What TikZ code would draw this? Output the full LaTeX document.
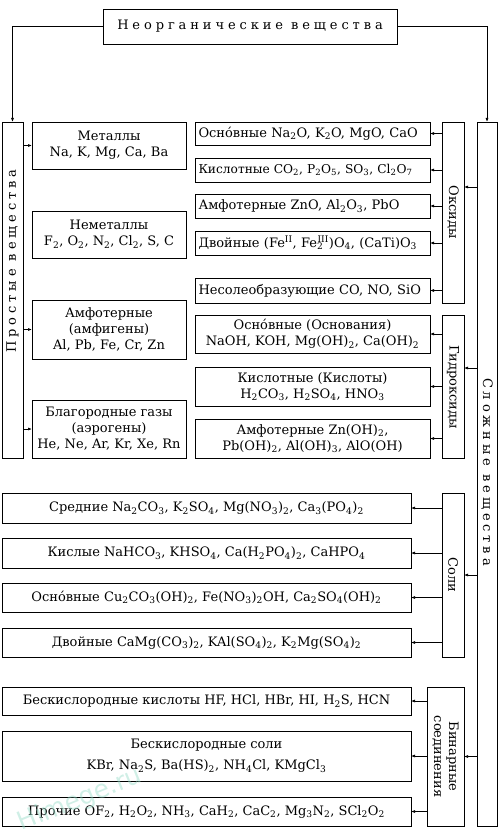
\documentclass[tikz,border=0pt]{standalone}
\usepackage{fontspec}
\setmainfont{DejaVu Serif}
\newfontfamily\wmfont{DejaVu Sans}
\usetikzlibrary{arrows.meta}
\newcommand\lo[1]{\textsubscript{#1}}
\newcommand\hi[1]{\textsuperscript{#1}}
\newcommand\spc[1]{{\addfontfeature{LetterSpace=30}#1}}
\definecolor{wmc}{RGB}{150,220,200}
\begin{document}
\begin{tikzpicture}[x=1pt,y=-1pt,
  box/.style={draw, line width=0.8pt, inner sep=0pt, outer sep=0pt, align=center, font=\fontsize{13}{16}\selectfont},
  oxbox/.style={box, minimum width=235pt, text width=228pt, align=left},
  vlab/.style={rotate=-90, inner sep=0pt, align=center, font=\fontsize{13}{15}\selectfont},
  arr/.style={-{Latex[length=4pt,width=3pt]}, line width=0.7pt},
]
\useasboundingbox (0,0) rectangle (500,834);
% top
\node[box, minimum width=294pt, minimum height=35pt] (top) at (250,26.5) {\spc{Неорганические вещества}};
% left column
\node[box, minimum width=21pt, minimum height=336pt] (left) at (12.5,290) {};
\node[rotate=90, inner sep=0pt, font=\fontsize{13}{15}\selectfont] (lefttxt) at (12.5,261) {\spc{Простые вещества}};
\node[box, minimum width=154pt, minimum height=47pt] (met) at (109,145.5) {Металлы\\Na, K, Mg, Ca, Ba};
\node[box, minimum width=154pt, minimum height=47pt] (nemet) at (109,234.5) {Неметаллы\\F\lo2, O\lo2, N\lo2, Cl\lo2, S, C};
\node[box, minimum width=154pt, minimum height=59pt] (amf) at (109,329.5) {Амфотерные\\(амфигены)\\Al, Pb, Fe, Cr, Zn};
\node[box, minimum width=154pt, minimum height=58pt] (blag) at (109,429) {Благородные газы\\(аэрогены)\\He, Ne, Ar, Kr, Xe, Rn};
% right big
\node[box, minimum width=20pt, minimum height=704pt] (big) at (487,474) {};
\node[rotate=-90, inner sep=0pt, font=\fontsize{13}{15}\selectfont] (bigtxt) at (487,472) {\spc{Сложные вещества}};
% oxides
\node[box, minimum width=22pt, minimum height=181pt] (oks) at (453,212.5) {};
\node[vlab] (okstxt) at (453,212) {Оксиды};
\node[oxbox, minimum height=23pt] (ox1) at (312.5,133.5) {Осно́вные Na\lo2O, K\lo2O, MgO, CaO};
\node[oxbox, minimum height=24pt, font=\fontsize{12.2}{16}\selectfont] (ox2) at (312.5,170) {\mbox{Кислотные CO\lo2, P\lo2O\lo5, SO\lo3, Cl\lo2O\lo7}};
\node[oxbox, minimum height=24pt] (ox3) at (312.5,206) {Амфотерные ZnO, Al\lo2O\lo3, PbO};
\node[oxbox, minimum height=24pt] (ox4) at (312.5,243) {Двойные (Fe\hi{II}, Fe\textsubscript{\rlap{2}}\textsuperscript{III})O\lo4, (CaTi)O\lo3};
\node[oxbox, minimum height=25pt] (ox5) at (312.5,290.5) {Несолеобразующие CO, NO, SiO};
% hydroxides
\node[box, minimum width=22pt, minimum height=143pt] (hyd) at (453,386.5) {};
\node[vlab] (hydtxt) at (453,387) {Гидроксиды};
\node[box, minimum width=235pt, minimum height=38pt] (hy1) at (312.5,334) {Осно́вные (Основания)\\NaOH, KOH, Mg(OH)\lo2, Ca(OH)\lo2};
\node[box, minimum width=235pt, minimum height=39pt] (hy2) at (312.5,386.5) {Кислотные (Кислоты)\\H\lo2CO\lo3, H\lo2SO\lo4, HNO\lo3};
\node[box, minimum width=235pt, minimum height=39pt] (hy3) at (312.5,438.5) {Амфотерные Zn(OH)\lo2,\\Pb(OH)\lo2, Al(OH)\lo3, AlO(OH)};
% salts
\node[box, minimum width=22pt, minimum height=164pt] (soli) at (453,575) {};
\node[vlab] (solitxt) at (453,575) {Соли};
\node[box, minimum width=409pt, minimum height=30pt] (s1) at (206.5,508) {Средние Na\lo2CO\lo3, K\lo2SO\lo4, Mg(NO\lo3)\lo2, Ca\lo3(PO\lo4)\lo2};
\node[box, minimum width=409pt, minimum height=30pt] (s2) at (206.5,553) {Кислые NaHCO\lo3, KHSO\lo4, Ca(H\lo2PO\lo4)\lo2, CaHPO\lo4};
\node[box, minimum width=409pt, minimum height=29pt] (s3) at (206.5,597.5) {Осно́вные Cu\lo2CO\lo3(OH)\lo2, Fe(NO\lo3)\lo2OH, Ca\lo2SO\lo4(OH)\lo2};
\node[box, minimum width=409pt, minimum height=29pt] (s4) at (206.5,642.5) {Двойные CaMg(CO\lo3)\lo2, KAl(SO\lo4)\lo2, K\lo2Mg(SO\lo4)\lo2};
% binary
\node[box, minimum width=37pt, minimum height=139pt] (bin) at (445.5,756.5) {};
\node[vlab] (bintxt) at (445.5,756.5) {Бинарные\\соединения};
\node[box, minimum width=409pt, minimum height=28pt] (b1) at (206.5,701) {Бескислородные кислоты HF, HCl, HBr, HI, H\lo2S, HCN};
\node[box, minimum width=409pt, minimum height=50pt] (b2) at (206.5,756) {Бескислородные соли\\[5pt]KBr, Na\lo2S, Ba(HS)\lo2, NH\lo4Cl, KMgCl\lo3};
\node[box, minimum width=409pt, minimum height=29pt] (b3) at (206.5,811.5) {Прочие OF\lo2, H\lo2O\lo2, NH\lo3, CaH\lo2, CaC\lo2, Mg\lo3N\lo2, SCl\lo2O\lo2};
% connectors
\draw[arr] (top.west) -| (left.north);
\draw[arr] (top.east) -| (big.north);
\foreach \n in {met,amf,blag} \draw[arr] (left.east |- \n.west) -- (\n.west);
\foreach \n in {ox1,ox2,ox3,ox4,ox5} \draw[arr] (oks.west |- \n.east) -- (\n.east);
\foreach \n in {hy1,hy2,hy3} \draw[arr] (hyd.west |- \n.east) -- (\n.east);
\foreach \n in {s1,s2,s3,s4} \draw[arr] (soli.west |- \n.east) -- (\n.east);
\foreach \n in {b1,b2,b3} \draw[arr] (bin.west |- \n.east) -- (\n.east);
\coordinate (okarr) at (0,187);
\coordinate (hyarr) at (0,368);
\draw[arr] (big.west |- okarr) -- (oks.east |- okarr);
\draw[arr] (big.west |- hyarr) -- (hyd.east |- hyarr);
\draw[arr] (big.west |- soli.east) -- (soli.east);
\draw[arr] (big.west |- bin.east) -- (bin.east);
% watermark
\node[rotate=22, text=wmc, opacity=0.45, inner sep=0pt, font=\wmfont\fontsize{25}{25}\selectfont] (wm) at (80,800) {Himege.ru};
\end{tikzpicture}
\end{document}
